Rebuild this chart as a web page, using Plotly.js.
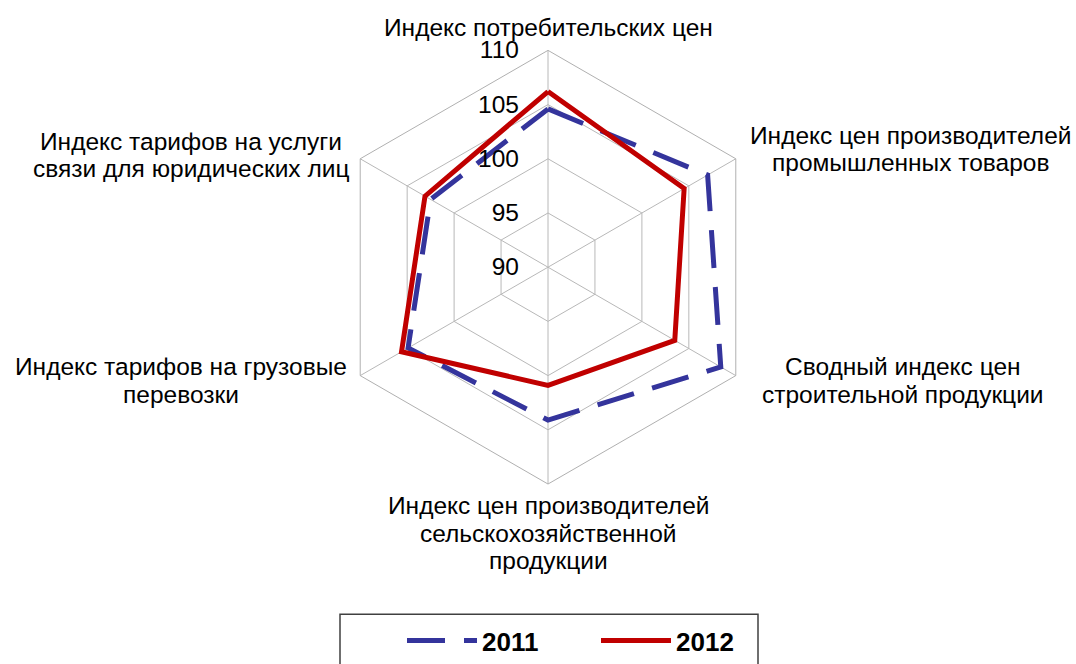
<!DOCTYPE html>
<html><head><meta charset="utf-8">
<script src="https://cdn.plot.ly/plotly-3.0.1.min.js"></script>
<style>html,body{margin:0;padding:0;background:#fff}#chart{width:1076px;height:664px}</style>
</head><body><div id="chart"></div>
<script>
// ---- data ----
const categories = [
  'Индекс потребительских цен',
  'Индекс цен производителей промышленных товаров',
  'Сводный индекс цен строительной продукции',
  'Индекс цен производителей сельскохозяйственной продукции',
  'Индекс тарифов на грузовые перевозки',
  'Индекс тарифов на услуги связи для юридических лиц'
];
const categoryLines = [
  ['Индекс потребительских цен'],
  ['Индекс цен производителей', 'промышленных товаров'],
  ['Сводный индекс цен', 'строительной продукции'],
  ['Индекс цен производителей', 'сельскохозяйственной', 'продукции'],
  ['Индекс тарифов на грузовые', 'перевозки'],
  ['Индекс тарифов на услуги', 'связи для юридических лиц']
];
const values2011 = [104.6, 107.0, 108.4, 104.1, 104.9, 102.5];
const values2012 = [106.2, 104.5, 103.5, 100.9, 105.6, 103.1];
const seriesNames = ['2011', '2012'];
const radialTicks = [90, 95, 100, 105, 110];
const radialRange = [90, 110];

// ---- layout helpers ----
const W = 1076, H = 664;
const CX = 548, CY = 268, R = 217.5;
const FS = 24.5, LINE = 27.5;
const FONT = 'Liberation Sans, Arial, sans-serif';
const px = x => x / W;
const py = y => 1 - y / H;
// label block centres: [x, mean baseline] in pixels
const labelAnchors = [[548, 37], [910, 159], [903, 391], [548, 544], [181, 391], [191, 165]];

const close = a => a.concat([a[0]]);
const thetaClosed = close(categories);

const traces = [
  {
    type: 'scatterpolar', mode: 'lines', name: seriesNames[0],
    r: close(values2011), theta: thetaClosed,
    line: {color: '#34349c', width: 5, dash: '38px,19px'},
    hoverinfo: 'skip'
  },
  {
    type: 'scatterpolar', mode: 'lines', name: seriesNames[1],
    r: close(values2012), theta: thetaClosed,
    line: {color: '#c00000', width: 5},
    hoverinfo: 'skip'
  }
];

const annotations = [];
categoryLines.forEach((lines, i) => {
  const n = lines.length;
  lines.forEach((t, j) => {
    const baseline = labelAnchors[i][1] + (j - (n - 1) / 2) * LINE;
    annotations.push({
      xref: 'paper', yref: 'paper',
      x: px(labelAnchors[i][0]),
      y: py(baseline + 0.212 * FS),
      xanchor: 'center', yanchor: 'bottom', borderpad: 0,
      text: t, showarrow: false,
      font: {family: FONT, size: FS, color: '#000'}
    });
  });
});

const layout = {
  width: W, height: H,
  margin: {l: 0, r: 0, t: 0, b: 0},
  paper_bgcolor: '#fff',
  font: {family: FONT, size: FS, color: '#000'},
  showlegend: true,
  legend: {
    orientation: 'h', x: px(402), y: py(619), xanchor: 'left', yanchor: 'top',
    font: {family: FONT, size: 26, color: '#000', weight: 'bold'},
    itemwidth: 70, entrywidth: 109, bgcolor: 'rgba(0,0,0,0)', borderwidth: 0
  },
  polar: {
    domain: {x: [px(CX - R), px(CX + R)], y: [py(CY + R), py(CY - R)]},
    bgcolor: '#fff',
    gridshape: 'linear',
    angularaxis: {
      type: 'category', direction: 'clockwise', rotation: 90,
      showticklabels: false, ticks: '',
      showline: true, linecolor: '#b0b0b0', linewidth: 1,
      showgrid: true, gridcolor: '#b8b8b8', gridwidth: 1
    },
    radialaxis: {
      range: radialRange, tickvals: radialTicks, ticktext: radialTicks.map(String),
      angle: 90, side: 'counterclockwise', tickangle: 90,
      showline: false, showgrid: true, gridcolor: '#b8b8b8', gridwidth: 1,
      ticks: 'outside', ticklen: 20, tickcolor: 'rgba(0,0,0,0)',
      tickfont: {family: FONT, size: FS, color: '#000'}
    }
  },
  shapes: [{
    type: 'rect', xref: 'paper', yref: 'paper',
    x0: px(340), x1: px(758), y0: py(616), y1: py(700),
    line: {color: '#404040', width: 1.5}, fillcolor: 'rgba(0,0,0,0)'
  }],
  annotations: annotations
};

Plotly.newPlot('chart', traces, layout, {displayModeBar: false, staticPlot: true});
</script>
</body></html>
